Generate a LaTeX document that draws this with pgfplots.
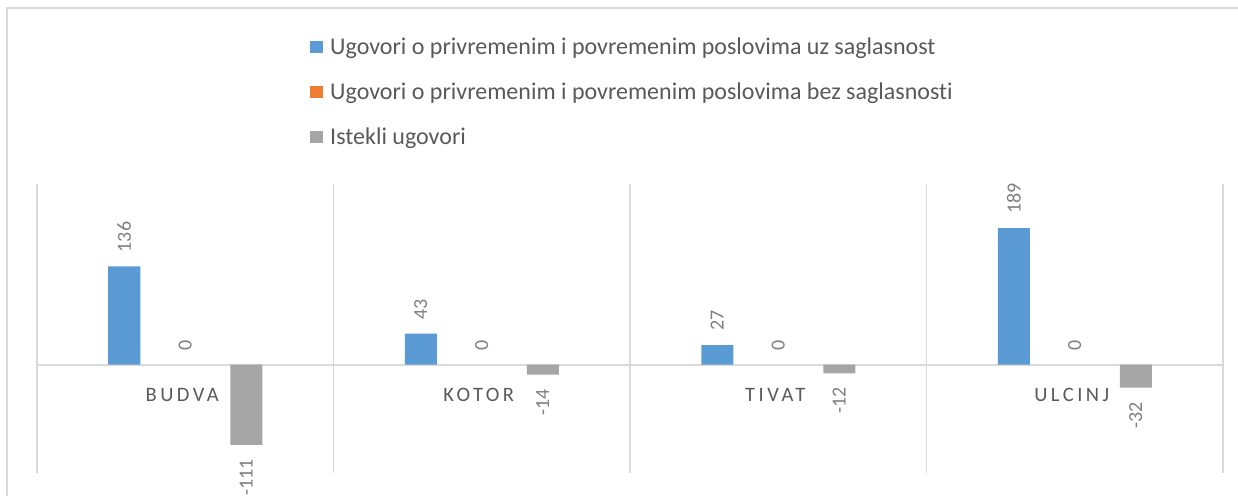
\documentclass[border=0pt]{standalone}
\usepackage{pgfplots}
\pgfplotsset{compat=1.18}
\usepackage{fontspec}
\setmainfont{Carlito}[Ligatures=NoCommon]
\newfontfamily\spacedfont[LetterSpace=17]{Carlito}
\definecolor{cblue}{HTML}{5B9BD5}
\definecolor{corange}{HTML}{ED7D31}
\definecolor{cgray}{HTML}{A5A5A5}
\definecolor{gridc}{HTML}{D9D9D9}
\definecolor{txt}{HTML}{595959}
\definecolor{lbl}{HTML}{7F7F7F}
\pgfplotsset{sqlegend/.style={legend image code/.code={\fill[#1,draw=none] (0bp,-6bp) rectangle (13bp,6bp);}}}
\begin{document}
\begin{tikzpicture}[x=1bp,y=1bp]
\useasboundingbox (0,0) rectangle (1238,496);
\draw[gridc, line width=1.5bp] (7,488) rectangle (1260,-30);
\begin{axis}[
  at={(37bp,23bp)}, anchor=south west, scale only axis,
  width=1186bp, height=289bp,
  xmin=-0.5, xmax=3.5, ymin=-150, ymax=250,
  ybar=29bp, bar width=32bp,
  clip=false,
  axis line style={draw=none}, tick style={draw=none},
  xtick={0,1,2,3}, xticklabels={BUDVA,KOTOR,TIVAT,ULCINJ},
  xticklabel style={font=\spacedfont\fontsize{20.5bp}{24bp}\selectfont, text=txt, anchor=center, yshift=82bp, xshift=-3bp},
  minor xtick={-0.5,0.5,1.5,2.5,3.5}, xminorgrids,
  minor grid style={gridc, line width=1.5bp},
  ytick=\empty, extra y ticks={0}, extra y tick labels={},
  extra y tick style={ymajorgrids, major grid style={gridc, line width=2bp}},
  /pgf/number format/assume math mode=true,
  nodes near coords,
  every node near coord/.append style={font=\fontsize{20bp}{24bp}\selectfont, text=lbl, rotate=90, inner xsep=14bp, inner ysep=0pt},
  legend style={at={(0.2302,1.505)}, anchor=north west, draw=none, fill=none,
    font=\fontsize{24bp}{28bp}\selectfont, text=txt, inner sep=0pt, row sep=26.5bp,
    nodes={inner sep=0pt},
    /tikz/every odd column/.append style={column sep=7bp}},
  legend cell align=left,
]
\addplot[fill=cblue, draw=none, sqlegend=cblue, every node near coord/.append style={anchor=west}]
  coordinates {(0,136) (1,43) (2,27) (3,189)};
\addplot[fill=none, draw=none, sqlegend=corange, every node near coord/.append style={anchor=west}]
  coordinates {(0,0) (1,0) (2,0) (3,0)};
\addplot[fill=cgray, draw=none, sqlegend=cgray, every node near coord/.append style={anchor=east}]
  coordinates {(0,-111) (1,-14) (2,-12) (3,-32)};
\legend{Ugovori o privremenim i povremenim poslovima uz saglasnost,
Ugovori o privremenim i povremenim poslovima bez saglasnosti,
Istekli ugovori}
\end{axis}
\end{tikzpicture}
\end{document}
